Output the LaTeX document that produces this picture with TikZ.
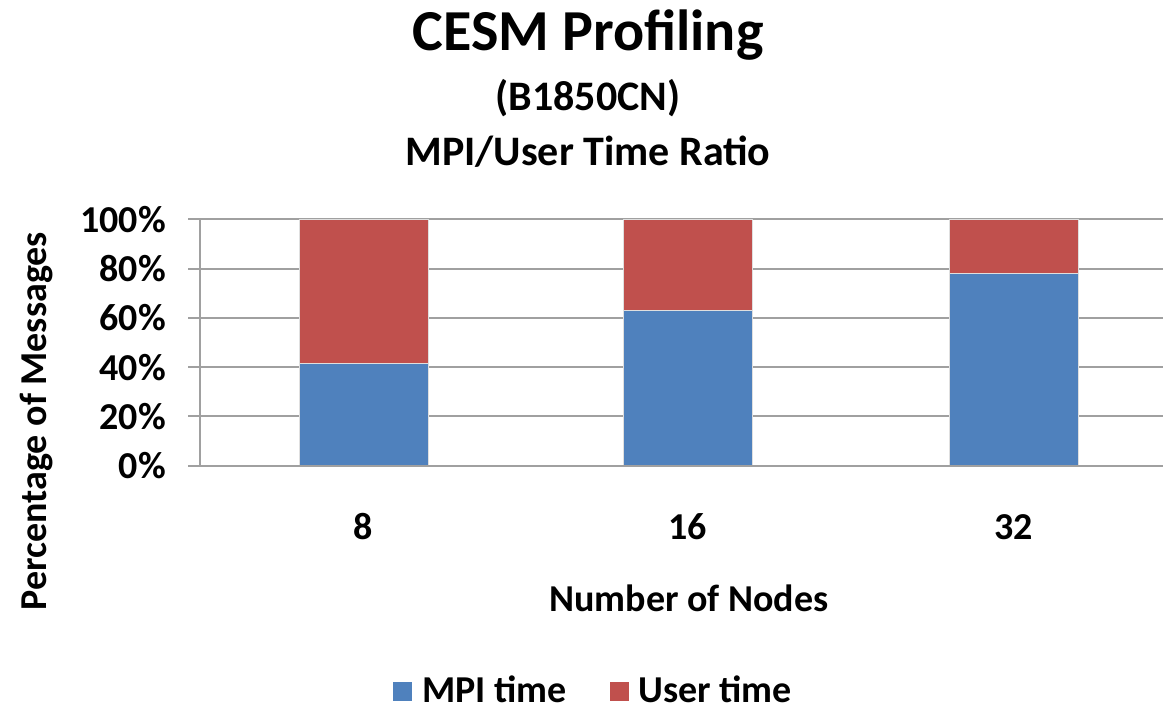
\documentclass[tikz,border=0pt]{standalone}
\usepackage{fontspec}
\setmainfont{Carlito}
\usetikzlibrary{positioning}
\definecolor{mpiblue}{HTML}{4F81BD}
\definecolor{userred}{HTML}{C0504D}
\definecolor{gridgray}{HTML}{A0A0A0}

\begin{document}
\begin{tikzpicture}[line cap=butt,line join=miter,x=1pt,y=-1pt,
  gridline/.style={line width=2pt,color=gridgray},
  barpart/.style={draw=gray!25,line width=0.8pt},
  txt/.style={inner sep=0pt,font=\bfseries\fontsize{38}{44}\selectfont},
  subtxt/.style={inner sep=0pt,font=\bfseries\fontsize{42}{48}\selectfont},
  titletxt/.style={inner sep=0pt,font=\bfseries\fontsize{58}{66}\selectfont}]
\useasboundingbox (0,0) rectangle (1163,711);
% gridlines, 20% steps
\draw [gridline] (188,219.3)-- (1163,219.3);
\draw [gridline] (188,268.6)-- (1163,268.6);
\draw [gridline] (188,317.8)-- (1163,317.8);
\draw [gridline] (188,367.1)-- (1163,367.1);
\draw [gridline] (188,416.4)-- (1163,416.4);
\draw [gridline] (188,465.7)-- (1163,465.7);
\draw [gridline] (200,219.3)-- (200,465.7);
% bars
\draw [barpart,fill=mpiblue] (299,465.7) rectangle (428,363.2);
\draw [barpart,fill=userred] (299,363.2) rectangle (428,219.3);
\draw [barpart,fill=mpiblue] (623,465.7) rectangle (752,310.7);
\draw [barpart,fill=userred] (623,310.7) rectangle (752,219.3);
\draw [barpart,fill=mpiblue] (949,465.7) rectangle (1078,273.3);
\draw [barpart,fill=userred] (949,273.3) rectangle (1078,219.3);
\draw [line width=2pt,color=gridgray] (200,465.7)-- (1163,465.7);
% y tick labels
\node [txt,anchor=east] (p100) at (166,219.3) {100\%};
\node [txt,anchor=east] (p80) at (166,268.6) {80\%};
\node [txt,anchor=east] (p60) at (166,317.8) {60\%};
\node [txt,anchor=east] (p40) at (166,367.1) {40\%};
\node [txt,anchor=east] (p20) at (166,416.4) {20\%};
\node [txt,anchor=east] (p0) at (166,465.7) {0\%};
% x tick labels
\node [txt] (n8) at (363.5,527) {8};
\node [txt] (n16) at (687.5,527) {16};
\node [txt] (n32) at (1013.5,527) {32};
% titles
\node [titletxt] (title) at (588,35) {CESM Profiling};
\node [subtxt] (case) at (588,98) {(B1850CN)};
\node [subtxt] (ratio) at (588,152) {MPI/User Time Ratio};
\node [txt] (xlabel) at (689,598) {Number of Nodes};
\node [txt,rotate=90] (ylabel) at (37,421) {Percentage of Messages};
% legend
\fill [color=mpiblue] (393,682) rectangle (412,701);
\node [txt,anchor=west] (mpi) at (422,689) {MPI time};
\fill [color=userred] (610,682) rectangle (629,701);
\node [txt,anchor=west] (user) at (638,689) {User time};
\end{tikzpicture}
\end{document}
